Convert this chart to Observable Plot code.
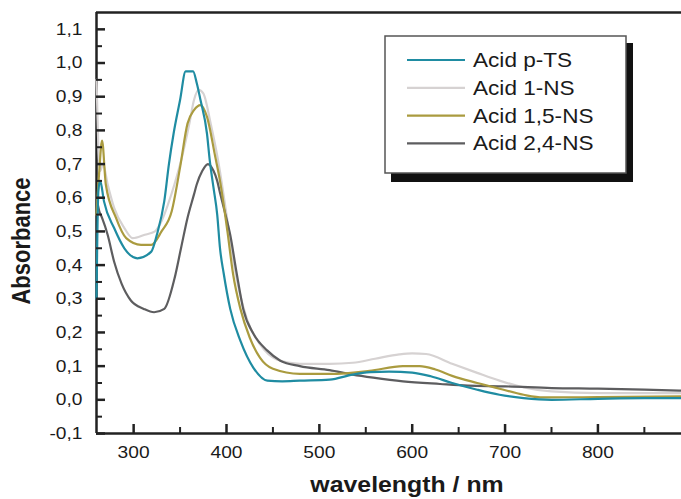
<!DOCTYPE html>
<html><head><meta charset="utf-8">
<script src="https://cdn.jsdelivr.net/npm/d3@7"></script>
<script src="https://cdn.jsdelivr.net/npm/@observablehq/plot@0.6"></script>
<style>
html,body{margin:0;padding:0;background:#fff;}
#chart{width:681px;height:499px;position:relative;overflow:hidden;}
</style></head><body><div id="chart"></div>
<script>
// ---- data ----
const seriesNames = ["Acid p-TS", "Acid 1-NS", "Acid 1,5-NS", "Acid 2,4-NS"];
const seriesColors = ["#1f8ca2", "#d6d2d2", "#aa9b3f", "#5d5d5f"];

const wlPTS  = [260, 262, 264, 268, 279, 290, 304, 319, 325, 333, 338, 343, 350, 356, 364, 368, 372, 379, 382, 386, 390, 393, 397, 404, 415, 429, 444, 460, 479, 511, 536, 555, 575, 600, 620, 643, 670, 694, 720, 750, 800, 850, 890];
const absPTS = [0.30, 0.62, 0.65, 0.59, 0.51, 0.45, 0.42, 0.44, 0.49, 0.59, 0.70, 0.79, 0.89, 0.975, 0.975, 0.94, 0.89, 0.79, 0.71, 0.63, 0.55, 0.45, 0.375, 0.27, 0.175, 0.095, 0.057, 0.055, 0.057, 0.06, 0.075, 0.082, 0.084, 0.081, 0.07, 0.05, 0.03, 0.015, 0.005, 0.0, 0.003, 0.005, 0.005];

const wl1NS  = [260, 262, 264, 267, 272, 279, 290, 299, 312, 323, 330, 337, 344, 352, 360, 365, 370, 375, 383, 391, 400, 407, 414, 422, 436, 454, 479, 511, 536, 560, 586, 600, 615, 643, 670, 694, 720, 750, 800, 850, 890];
const abs1NS = [0.95, 0.75, 0.68, 0.70, 0.64, 0.57, 0.51, 0.48, 0.49, 0.50, 0.53, 0.58, 0.64, 0.72, 0.82, 0.89, 0.92, 0.91, 0.82, 0.71, 0.55, 0.42, 0.32, 0.24, 0.165, 0.12, 0.107, 0.107, 0.11, 0.122, 0.135, 0.138, 0.136, 0.107, 0.08, 0.057, 0.037, 0.025, 0.02, 0.02, 0.02];

const wl15NS  = [260, 263, 266, 270, 281, 292, 308, 319, 330, 341, 350, 358, 365, 372, 379, 388, 393, 401, 407, 415, 425, 436, 450, 479, 511, 554, 590, 608, 625, 643, 670, 694, 720, 741, 800, 890];
const abs15NS = [0.55, 0.68, 0.77, 0.64, 0.54, 0.48, 0.46, 0.46, 0.50, 0.56, 0.69, 0.82, 0.86, 0.875, 0.84, 0.72, 0.65, 0.50, 0.375, 0.27, 0.185, 0.125, 0.092, 0.077, 0.077, 0.086, 0.10, 0.10, 0.09, 0.071, 0.05, 0.033, 0.015, 0.007, 0.008, 0.01];

const wl24NS  = [260, 263, 266, 272, 279, 287, 297, 311, 322, 333, 344, 351, 358, 365, 368, 374, 380, 386, 390, 393, 398, 404, 411, 418, 429, 444, 458, 479, 511, 536, 558, 590, 630, 660, 700, 750, 800, 850, 890];
const abs24NS = [0.60, 0.56, 0.54, 0.49, 0.41, 0.345, 0.295, 0.27, 0.26, 0.27, 0.36, 0.45, 0.54, 0.61, 0.64, 0.68, 0.70, 0.68, 0.65, 0.615, 0.56, 0.49, 0.375, 0.27, 0.196, 0.146, 0.116, 0.10, 0.088, 0.075, 0.066, 0.055, 0.047, 0.042, 0.04, 0.035, 0.033, 0.03, 0.027];

const xTicks = [300, 400, 500, 600, 700, 800];
const xMinorTicks = [350, 450, 550, 650, 750, 850];
const yTicks = [-0.1, 0.0, 0.1, 0.2, 0.3, 0.4, 0.5, 0.6, 0.7, 0.8, 0.9, 1.0, 1.1];
const yMinorTicks = [-0.05, 0.05, 0.15, 0.25, 0.35, 0.45, 0.55, 0.65, 0.75, 0.85, 0.95, 1.05];

const xLabel = "wavelength / nm";
const yLabel = "Absorbance";

// ---- build table ----
const seriesData = {
  "Acid p-TS": [wlPTS, absPTS],
  "Acid 1-NS": [wl1NS, abs1NS],
  "Acid 1,5-NS": [wl15NS, abs15NS],
  "Acid 2,4-NS": [wl24NS, abs24NS]
};
const drawOrder = ["Acid 1-NS", "Acid 2,4-NS", "Acid 1,5-NS", "Acid p-TS"];
const rows = [];
for (const s of drawOrder) {
  const [w, a] = seriesData[s];
  w.forEach((v, i) => rows.push({series: s, wl: v, abs: a[i]}));
}

const fmt = d => d3.format(".1f")(d).replace(".", ",").replace("\u2212", "-");
const axisColor = "#222";

const plot = Plot.plot({
  width: 681, height: 499,
  marginLeft: 96, marginRight: 0, marginTop: 12, marginBottom: 66,
  style: {fontFamily: "'Liberation Sans', Arial, sans-serif", background: "#fff", color: "#1a1a1a", overflow: "visible"},
  x: {domain: [260, 890]},
  y: {domain: [-0.1, 1.15]},
  color: {domain: seriesNames, range: seriesColors},
  marks: [
    Plot.ruleX([260], {stroke: axisColor, strokeWidth: 2.5}),
    Plot.ruleY([-0.1], {stroke: axisColor, strokeWidth: 2.5}),
    Plot.ruleY([1.15], {stroke: axisColor, strokeWidth: 2.5}),
    Plot.line(rows, {x: "wl", y: "abs", stroke: "series", z: "series", strokeWidth: 2.2, curve: "monotone-x"}),
    Plot.axisY(yTicks, {tickSize: -9, tickFormat: () => "", stroke: axisColor, strokeWidth: 2.5, label: null}),
    Plot.axisY(yMinorTicks, {tickSize: -6, tickFormat: () => "", stroke: axisColor, strokeWidth: 2, label: null}),
    Plot.axisY(yTicks, {tickSize: 0, tickPadding: 14, tickFormat: fmt, fontSize: 17, fill: "#1a1a1a", label: null}),
    Plot.axisX(xTicks, {tickSize: -9, tickFormat: () => "", stroke: axisColor, strokeWidth: 2.5, label: null}),
    Plot.axisX(xMinorTicks, {tickSize: -6, tickFormat: () => "", stroke: axisColor, strokeWidth: 2, label: null}),
    Plot.axisX(xTicks, {tickSize: 0, tickPadding: 12, tickFormat: d => String(d), fontSize: 17, fill: "#1a1a1a", label: null}),
    Plot.text([yLabel], {frameAnchor: "left", textAnchor: "middle", lineAnchor: "middle", dx: -74, dy: 18, rotate: -90, fontSize: 22, fontWeight: "bold", fill: "#1a1a1a"}),
    Plot.text([xLabel], {frameAnchor: "bottom", textAnchor: "middle", lineAnchor: "middle", dx: 18, dy: 51, fontSize: 22, fontWeight: "bold", fill: "#1a1a1a"})
  ]
});
document.getElementById("chart").appendChild(plot);

// ---- horizontal stretch of lettering (as in the reference) ----
const S = 1.13;
const svg = d3.select(plot);
svg.selectAll("text").each(function () {
  const t = this.getAttribute("transform");
  if (t) {
    if (/rotate\(-90\)/.test(t)) this.setAttribute("transform", t + ` scale(1,${S})`);
    else this.setAttribute("transform", t + ` scale(${S},1)`);
  }
});

// ---- legend (boxed, with drop shadow) ----
const lg = svg.append("g").attr("class", "legend").attr("text-anchor", "start");
lg.append("rect").attr("x", 391).attr("y", 43).attr("width", 242).attr("height", 139).attr("fill", "#111");
lg.append("rect").attr("x", 385).attr("y", 36).attr("width", 241).attr("height", 137)
  .attr("fill", "#fff").attr("stroke", "#555").attr("stroke-width", 1.5);
seriesNames.forEach((name, i) => {
  const yy = 60 + i * 27.8;
  lg.append("line").attr("x1", 407).attr("x2", 465).attr("y1", yy).attr("y2", yy)
    .attr("stroke", seriesColors[i]).attr("stroke-width", 2.2);
  lg.append("text").attr("transform", `translate(473,${yy}) scale(${S},1)`).attr("dy", "0.35em")
    .attr("text-anchor", "start")
    .attr("font-size", 20).attr("fill", "#1a1a1a")
    .attr("font-family", "'Liberation Sans', Arial, sans-serif").text(name);
});
</script></body></html>
